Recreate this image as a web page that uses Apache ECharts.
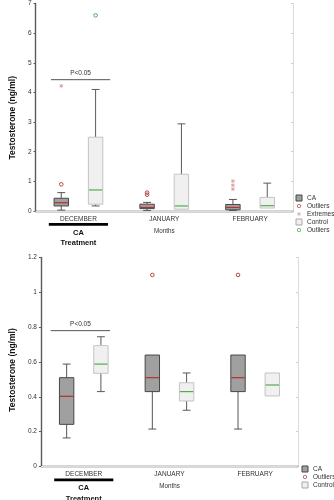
<!DOCTYPE html>
<html>
<head>
<meta charset="utf-8">
<script src="https://cdn.jsdelivr.net/npm/echarts@6/dist/echarts.min.js"></script>
<style>
html, body { margin: 0; padding: 0; background: #fff; }
#chart { width: 334px; height: 500px; }
</style>
</head>
<body>
<div id="chart"></div>
<script>
const months = ['DECEMBER', 'JANUARY', 'FEBRUARY'];

// Upper panel, boxes: [lower whisker, Q1, median, Q3, upper whisker] per month
const caAll = [
  [0.03, 0.17, 0.28, 0.43, 0.62],
  [0.02, 0.08, 0.12, 0.23, 0.29],
  [0.02, 0.04, 0.12, 0.22, 0.39]
];
const controlAll = [
  [0.17, 0.23, 0.71, 2.49, 4.10],
  [0.05, 0.06, 0.17, 1.24, 2.94],
  [0.09, 0.10, 0.18, 0.46, 0.94]
];
// single points: [month index, value]
const caAllOutliers = [[0, 0.90], [1, 0.62], [1, 0.55]];
const caAllExtremes = [[0, 4.22], [2, 1.01], [2, 0.87], [2, 0.74]];
const controlAllOutliers = [[0, 6.60]];
const allScale = { min: 0, max: 7, interval: 1 };
const allBracket = [[0, 4.43]];

// Lower panel
const caSub = [
  [0.164, 0.242, 0.403, 0.510, 0.588],
  [0.215, 0.430, 0.510, 0.640, 0.640],
  [0.215, 0.430, 0.510, 0.640, 0.640]
];
const controlSub = [
  [0.430, 0.535, 0.588, 0.694, 0.745],
  [0.323, 0.376, 0.430, 0.481, 0.537],
  [0.405, 0.405, 0.468, 0.537, 0.537]
];
const caSubOutliers = [[1, 1.10], [2, 1.10]];
const subScale = { min: 0, max: 1.2, interval: 0.2 };
const subBracket = [[0, 0.78]];

const significanceText = 'P<0.05';
const treatmentGroup = 'CA';
const treatmentTitle = 'Treatment';
const yTitle = 'Testosterone (ng/ml)';
const xTitle = 'Months';

const FONT = '"Liberation Sans", Arial, sans-serif';
const AXIS_DARK = '#5a5a5a';
const FRAME = '#dcdcdc';

const CA_LOOK = { fill: '#a0a0a0', border: '#474747', median: '#b3302c', whisker: '#555' };
const CONTROL_LOOK = { fill: '#f0f0f0', border: '#c4c4c4', median: '#4fae4f', whisker: '#5a5a5a' };
const CA_OUT = '#b04a4a';
const CA_EXT = '#d69a9a';
const CONTROL_OUT = '#4caf50';

// side: -1 = CA (left of month centre), +1 = Control (right)
function boxRenderer(side, look) {
  return function (params, api) {
    const c = api.value(0);
    const band = api.size([1, 0])[0];
    const x = api.coord([c, 0])[0] + side * band * 0.2;
    const half = band * 0.084;
    const cap = band * 0.046;
    const py = v => api.coord([c, v])[1];
    const lo = py(api.value(1)), q1 = py(api.value(2)), md = py(api.value(3)),
          q3 = py(api.value(4)), hi = py(api.value(5));
    const ws = { stroke: look.whisker, lineWidth: 1 };
    const children = [];
    if (q3 - hi > 0.5) {
      children.push({ type: 'line', shape: { x1: x, y1: hi, x2: x, y2: q3 }, style: ws });
      children.push({ type: 'line', shape: { x1: x - cap, y1: hi, x2: x + cap, y2: hi }, style: ws });
    }
    if (lo - q1 > 0.5) {
      children.push({ type: 'line', shape: { x1: x, y1: q1, x2: x, y2: lo }, style: ws });
      children.push({ type: 'line', shape: { x1: x - cap, y1: lo, x2: x + cap, y2: lo }, style: ws });
    }
    children.push({
      type: 'rect',
      shape: { x: x - half, y: q3, width: half * 2, height: q1 - q3 },
      style: { fill: look.fill, stroke: look.border, lineWidth: 1 }
    });
    children.push({
      type: 'line',
      shape: { x1: x - half + 0.5, y1: md, x2: x + half - 0.5, y2: md },
      style: { stroke: look.median, lineWidth: 1.2 }
    });
    return { type: 'group', children };
  };
}

function circleRenderer(side, color) {
  return function (params, api) {
    const c = api.value(0);
    const band = api.size([1, 0])[0];
    const p = api.coord([c, api.value(1)]);
    return {
      type: 'circle',
      shape: { cx: p[0] + side * band * 0.2, cy: p[1], r: 1.8 },
      style: { fill: 'none', stroke: color, lineWidth: 1 }
    };
  };
}

function asteriskRenderer(side, color) {
  return function (params, api) {
    const c = api.value(0);
    const band = api.size([1, 0])[0];
    const p = api.coord([c, api.value(1)]);
    const x = p[0] + side * band * 0.2, y = p[1], r = 1.8;
    const st = { stroke: color, lineWidth: 0.9 };
    return {
      type: 'group',
      children: [
        { type: 'line', shape: { x1: x, y1: y - r, x2: x, y2: y + r }, style: st },
        { type: 'line', shape: { x1: x - r, y1: y - r * 0.6, x2: x + r, y2: y + r * 0.6 }, style: st },
        { type: 'line', shape: { x1: x - r, y1: y + r * 0.6, x2: x + r, y2: y - r * 0.6 }, style: st }
      ]
    };
  };
}

// significance bracket over the December pair
function bracketRenderer(fromFrac, toFrac) {
  return function (params, api) {
    const c = api.value(0);
    const band = api.size([1, 0])[0];
    const p = api.coord([c, api.value(1)]);
    const x1 = p[0] + fromFrac * band, x2 = p[0] + toFrac * band;
    return {
      type: 'group',
      children: [
        { type: 'line', shape: { x1, y1: p[1], x2, y2: p[1] }, style: { stroke: '#555', lineWidth: 1 } },
        { type: 'text', x: (x1 + x2) / 2, y: p[1] - 3,
          style: { text: significanceText, font: '6.5px ' + FONT, fill: '#333', align: 'center', verticalAlign: 'bottom' } }
      ]
    };
  };
}

// treatment marker under the December label
function treatmentRenderer(params, api) {
  const band = api.size([1, 0])[0];
  const p = api.coord([0, 0]);
  const w = band * 0.69;
  return {
    type: 'group',
    children: [
      { type: 'rect', shape: { x: p[0] - w / 2, y: p[1] + 12, width: w, height: 2.8 }, style: { fill: '#000' } },
      { type: 'text', x: p[0], y: p[1] + 21.5,
        style: { text: treatmentGroup, font: 'bold 7.5px ' + FONT, fill: '#111', align: 'center', verticalAlign: 'middle' } },
      { type: 'text', x: p[0], y: p[1] + 32,
        style: { text: treatmentTitle, font: 'bold 7.5px ' + FONT, fill: '#111', align: 'center', verticalAlign: 'middle' } }
    ]
  };
}

// legend glyphs; the leading moveTo points widen the bounding box so the mark sits smaller in its slot
const asteriskIcon = 'path://M-2,-2M12,12M4.4,0H5.6V10H4.4Z M0,2.6L0.6,1.6L10,7.4L9.4,8.4Z M0,7.4L9.4,1.6L10,2.6L0.6,8.4Z';
const ringIcon = 'path://M-2.5,-2.5M12.5,12.5M0,5A5,5,0,1,0,10,5A5,5,0,1,0,0,5Z M2,5A3,3,0,1,1,8,5A3,3,0,1,1,2,5Z';

function boxData(rows) { return rows.map((r, i) => [i].concat(r)); }

function xAxesFor(grid, nameGap, labelMargin) {
  return [
    {
      gridIndex: grid, type: 'category', data: months, position: 'bottom',
      axisLine: { lineStyle: { color: AXIS_DARK, width: 1.4 } },
      axisTick: { alignWithLabel: true, inside: true, length: 2, lineStyle: { color: AXIS_DARK } },
      axisLabel: { fontSize: 6.5, color: '#333', fontFamily: FONT, margin: labelMargin },
      name: xTitle, nameLocation: 'middle', nameGap: nameGap,
      nameTextStyle: { fontSize: 6.3, color: '#333', fontFamily: FONT },
      splitLine: { show: false }
    },
    {
      gridIndex: grid, type: 'category', data: months, position: 'top',
      axisLine: { lineStyle: { color: FRAME, width: 1 } },
      axisTick: { alignWithLabel: true, inside: true, length: 2, lineStyle: { color: '#cfcfcf' } },
      axisLabel: { show: false }, splitLine: { show: false }
    }
  ];
}

function yAxesFor(grid, scale, nameGap, shift, decimals) {
  return [
    {
      gridIndex: grid, type: 'value', position: 'left',
      min: scale.min, max: scale.max, interval: scale.interval,
      axisLine: { show: true, lineStyle: { color: AXIS_DARK, width: 1.4 } },
      axisTick: { show: true, length: 2, lineStyle: { color: AXIS_DARK } },
      axisLabel: {
        fontSize: 6.5, color: '#333', fontFamily: FONT, margin: 4,
        formatter: v => String(Number(v.toFixed(decimals)))
      },
      splitLine: { show: false },
      name: yTitle, nameLocation: 'middle', nameGap: nameGap, nameRotate: 90,
      nameTextStyle: { fontSize: 8.5, fontWeight: 'bold', color: '#111', fontFamily: FONT, padding: [0, shift * 2, 0, 0] }
    },
    {
      gridIndex: grid, type: 'value', position: 'right',
      min: scale.min, max: scale.max, interval: scale.interval,
      axisLine: { show: true, lineStyle: { color: FRAME, width: 1 } },
      axisTick: { show: true, inside: true, length: 2, lineStyle: { color: '#cfcfcf' } },
      axisLabel: { show: false }, splitLine: { show: false }
    }
  ];
}

function custom(name, xi, yi, data, renderItem, color, z) {
  return {
    type: 'custom', name, xAxisIndex: xi, yAxisIndex: yi, data,
    renderItem, itemStyle: { color }, z: z || 2, silent: true,
    encode: { x: 0, y: data[0].length > 2 ? [1, 2, 3, 4, 5] : 1 }
  };
}

const legendText = { fontSize: 6.5, color: '#333', fontFamily: FONT, lineHeight: 8 };
const caIcon = { name: 'CA', icon: 'rect', itemStyle: { color: CA_LOOK.fill, borderColor: CA_LOOK.border, borderWidth: 1 } };
const controlIcon = { name: 'Control', icon: 'rect', itemStyle: { color: CONTROL_LOOK.fill, borderColor: '#a8a8a8', borderWidth: 1 } };
const caOutIcon = { name: 'Outliers', icon: ringIcon, itemStyle: { color: CA_OUT, borderWidth: 0 } };

const chart = echarts.init(document.getElementById('chart'), null, { renderer: 'canvas' });

chart.setOption({
  animation: false,
  backgroundColor: '#fff',
  textStyle: { fontFamily: FONT },
  grid: [
    { left: 25, right: 41, top: 2, height: 209 },
    { left: 31, right: 36, top: 257.5, height: 209 }
  ],
  xAxis: [].concat(xAxesFor(0, 17, 5), xAxesFor(1, 17, 4)),
  yAxis: [].concat(yAxesFor(0, allScale, 13, 10.5, 0), yAxesFor(1, subScale, 19, 8, 1)),
  legend: [
    {
      orient: 'vertical', left: 295.5, top: 194, padding: 0,
      itemWidth: 6, itemHeight: 6, itemGap: 0,
      textStyle: legendText, selectedMode: false,
      formatter: n => n === 'Control outliers' ? 'Outliers' : n,
      data: [
        caIcon,
        caOutIcon,
        { name: 'Extremes', icon: asteriskIcon, itemStyle: { color: CA_EXT, borderWidth: 0 } },
        controlIcon,
        { name: 'Control outliers', icon: ringIcon, itemStyle: { color: CONTROL_OUT, borderWidth: 0 } }
      ]
    },
    {
      orient: 'vertical', left: 301.5, top: 465, padding: 0,
      itemWidth: 6, itemHeight: 6, itemGap: 0,
      textStyle: legendText, selectedMode: false,
      data: [caIcon, caOutIcon, controlIcon]
    }
  ],
  series: [
    custom('CA', 0, 0, boxData(caAll), boxRenderer(-1, CA_LOOK), CA_LOOK.fill),
    custom('Control', 0, 0, boxData(controlAll), boxRenderer(1, CONTROL_LOOK), CONTROL_LOOK.fill),
    custom('Outliers', 0, 0, caAllOutliers, circleRenderer(-1, CA_OUT), CA_OUT, 3),
    custom('Extremes', 0, 0, caAllExtremes, asteriskRenderer(-1, CA_EXT), CA_EXT, 3),
    custom('Control outliers', 0, 0, controlAllOutliers, circleRenderer(1, CONTROL_OUT), CONTROL_OUT, 3),
    custom('significance', 0, 0, allBracket, bracketRenderer(-0.32, 0.37), '#555', 3),
    custom('treatment', 0, 0, [[0, 0]], treatmentRenderer, '#000', 3),

    custom('CA', 2, 2, boxData(caSub), boxRenderer(-1, CA_LOOK), CA_LOOK.fill),
    custom('Control', 2, 2, boxData(controlSub), boxRenderer(1, CONTROL_LOOK), CONTROL_LOOK.fill),
    custom('Outliers', 2, 2, caSubOutliers, circleRenderer(-1, CA_OUT), CA_OUT, 3),
    custom('significance', 2, 2, subBracket, bracketRenderer(-0.385, 0.307), '#555', 3),
    custom('treatment', 2, 2, [[0, 0]], treatmentRenderer, '#000', 3)
  ]
});
</script>
</body>
</html>
